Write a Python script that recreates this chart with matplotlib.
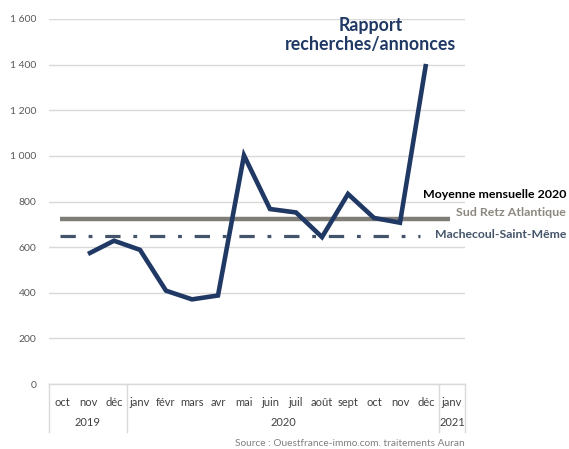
import matplotlib
matplotlib.use("Agg")
import matplotlib.pyplot as plt
import matplotlib.transforms as mtransforms
import numpy as np

# Monthly ratio of searches to listings
months = ["oct", "nov", "déc", "janv", "févr", "mars", "avr", "mai", "juin",
          "juil", "août", "sept", "oct", "nov", "déc", "janv"]
ratio = [np.nan, 570, 628, 588, 409, 371, 388, 1002, 767, 752, 644, 833, 728, 707, 1403]
years = ["2019", "2020", "2021"]
year_groups = [(0, 2), (3, 14), (15, 15)]

# 2020 monthly averages
avg_sud_retz = 724
avg_machecoul = 649

yticks = [0, 200, 400, 600, 800, 1000, 1200, 1400, 1600]
ytick_labels = ["0", "200", "400", "600", "800", "1 000", "1 200", "1 400", "1 600"]

plt.rcParams["font.family"] = ["Lato", "DejaVu Sans"]

W, H = 569, 449
fig = plt.figure(figsize=(W / 100, H / 100), dpi=100)
ax = fig.add_axes([49 / W, (H - 384) / H, 416 / W, (384 - 19) / H])

navy = "#1f3864"
grey_line = "#7f7d77"
slate = "#44546a"
grid_c = "#d9d9d9"

x = np.arange(len(months))
ax.set_xlim(-0.5, len(months) - 0.5)
ax.set_ylim(0, 1600)

ax.set_yticks(yticks)
ax.set_yticklabels(ytick_labels, color="#595959", fontsize=7.5)
ax.tick_params(axis="y", length=0, pad=9)
ax.yaxis.grid(True, color=grid_c, linewidth=1.0)
ax.set_axisbelow(True)
for s in ["top", "right", "left"]:
    ax.spines[s].set_visible(False)
ax.spines["bottom"].set_color(grid_c)
ax.spines["bottom"].set_linewidth(1.0)

# month labels
ax.set_xticks(x)
ax.set_xticklabels(months, fontsize=8, color="#404040")
ax.tick_params(axis="x", length=0, pad=9)

# year row and separators
trans = mtransforms.blended_transform_factory(ax.transData, ax.transAxes)
bottom = -48 / 365
for b in [-0.5, 2.5, 14.5, 15.5]:
    ax.plot([b, b], [0, bottom], transform=trans, color=grid_c, lw=1.0, clip_on=False)
for label, (a, b) in zip(years, year_groups):
    ax.text((a + b) / 2, -39 / 365, label, transform=trans, ha="center", va="center",
            fontsize=8, color="#404040")

# average lines
ax.hlines(avg_sud_retz, -0.08, 14.92, color=grey_line, lw=3.2, zorder=2)
ax.hlines(avg_machecoul, -0.08, 13.77, color=slate, lw=2.3,
          linestyles=[(0, (4.8, 4.0, 1.2, 4.0))], zorder=2)

# main series
ax.plot(x[:len(ratio)], ratio, color=navy, lw=3.3, solid_joinstyle="miter",
        solid_capstyle="butt", zorder=3)

# annotations
fig.text(371 / W, 1 - 35 / H, "Rapport\nrecherches/annonces", ha="center", va="center",
         fontsize=12.8, fontweight="bold", color=navy, linespacing=1.1)
fig.text(566 / W, 1 - 194 / H, "Moyenne mensuelle 2020", ha="right", va="center",
         fontsize=8.9, fontweight="bold", color="black")
fig.text(566 / W, 1 - 213 / H, "Sud Retz Atlantique", ha="right", va="center",
         fontsize=8.9, fontweight="bold", color="#8c8880")
fig.text(566 / W, 1 - 235 / H, "Machecoul-Saint-Même", ha="right", va="center",
         fontsize=8.8, fontweight="bold", color=slate)
fig.text(465 / W, 1 - 444 / H, "Source : Ouestfrance-immo.com. traitements Auran",
         ha="right", va="center", fontsize=7.3, color="#7f7f7f")

fig.savefig("out.png", dpi=100)
